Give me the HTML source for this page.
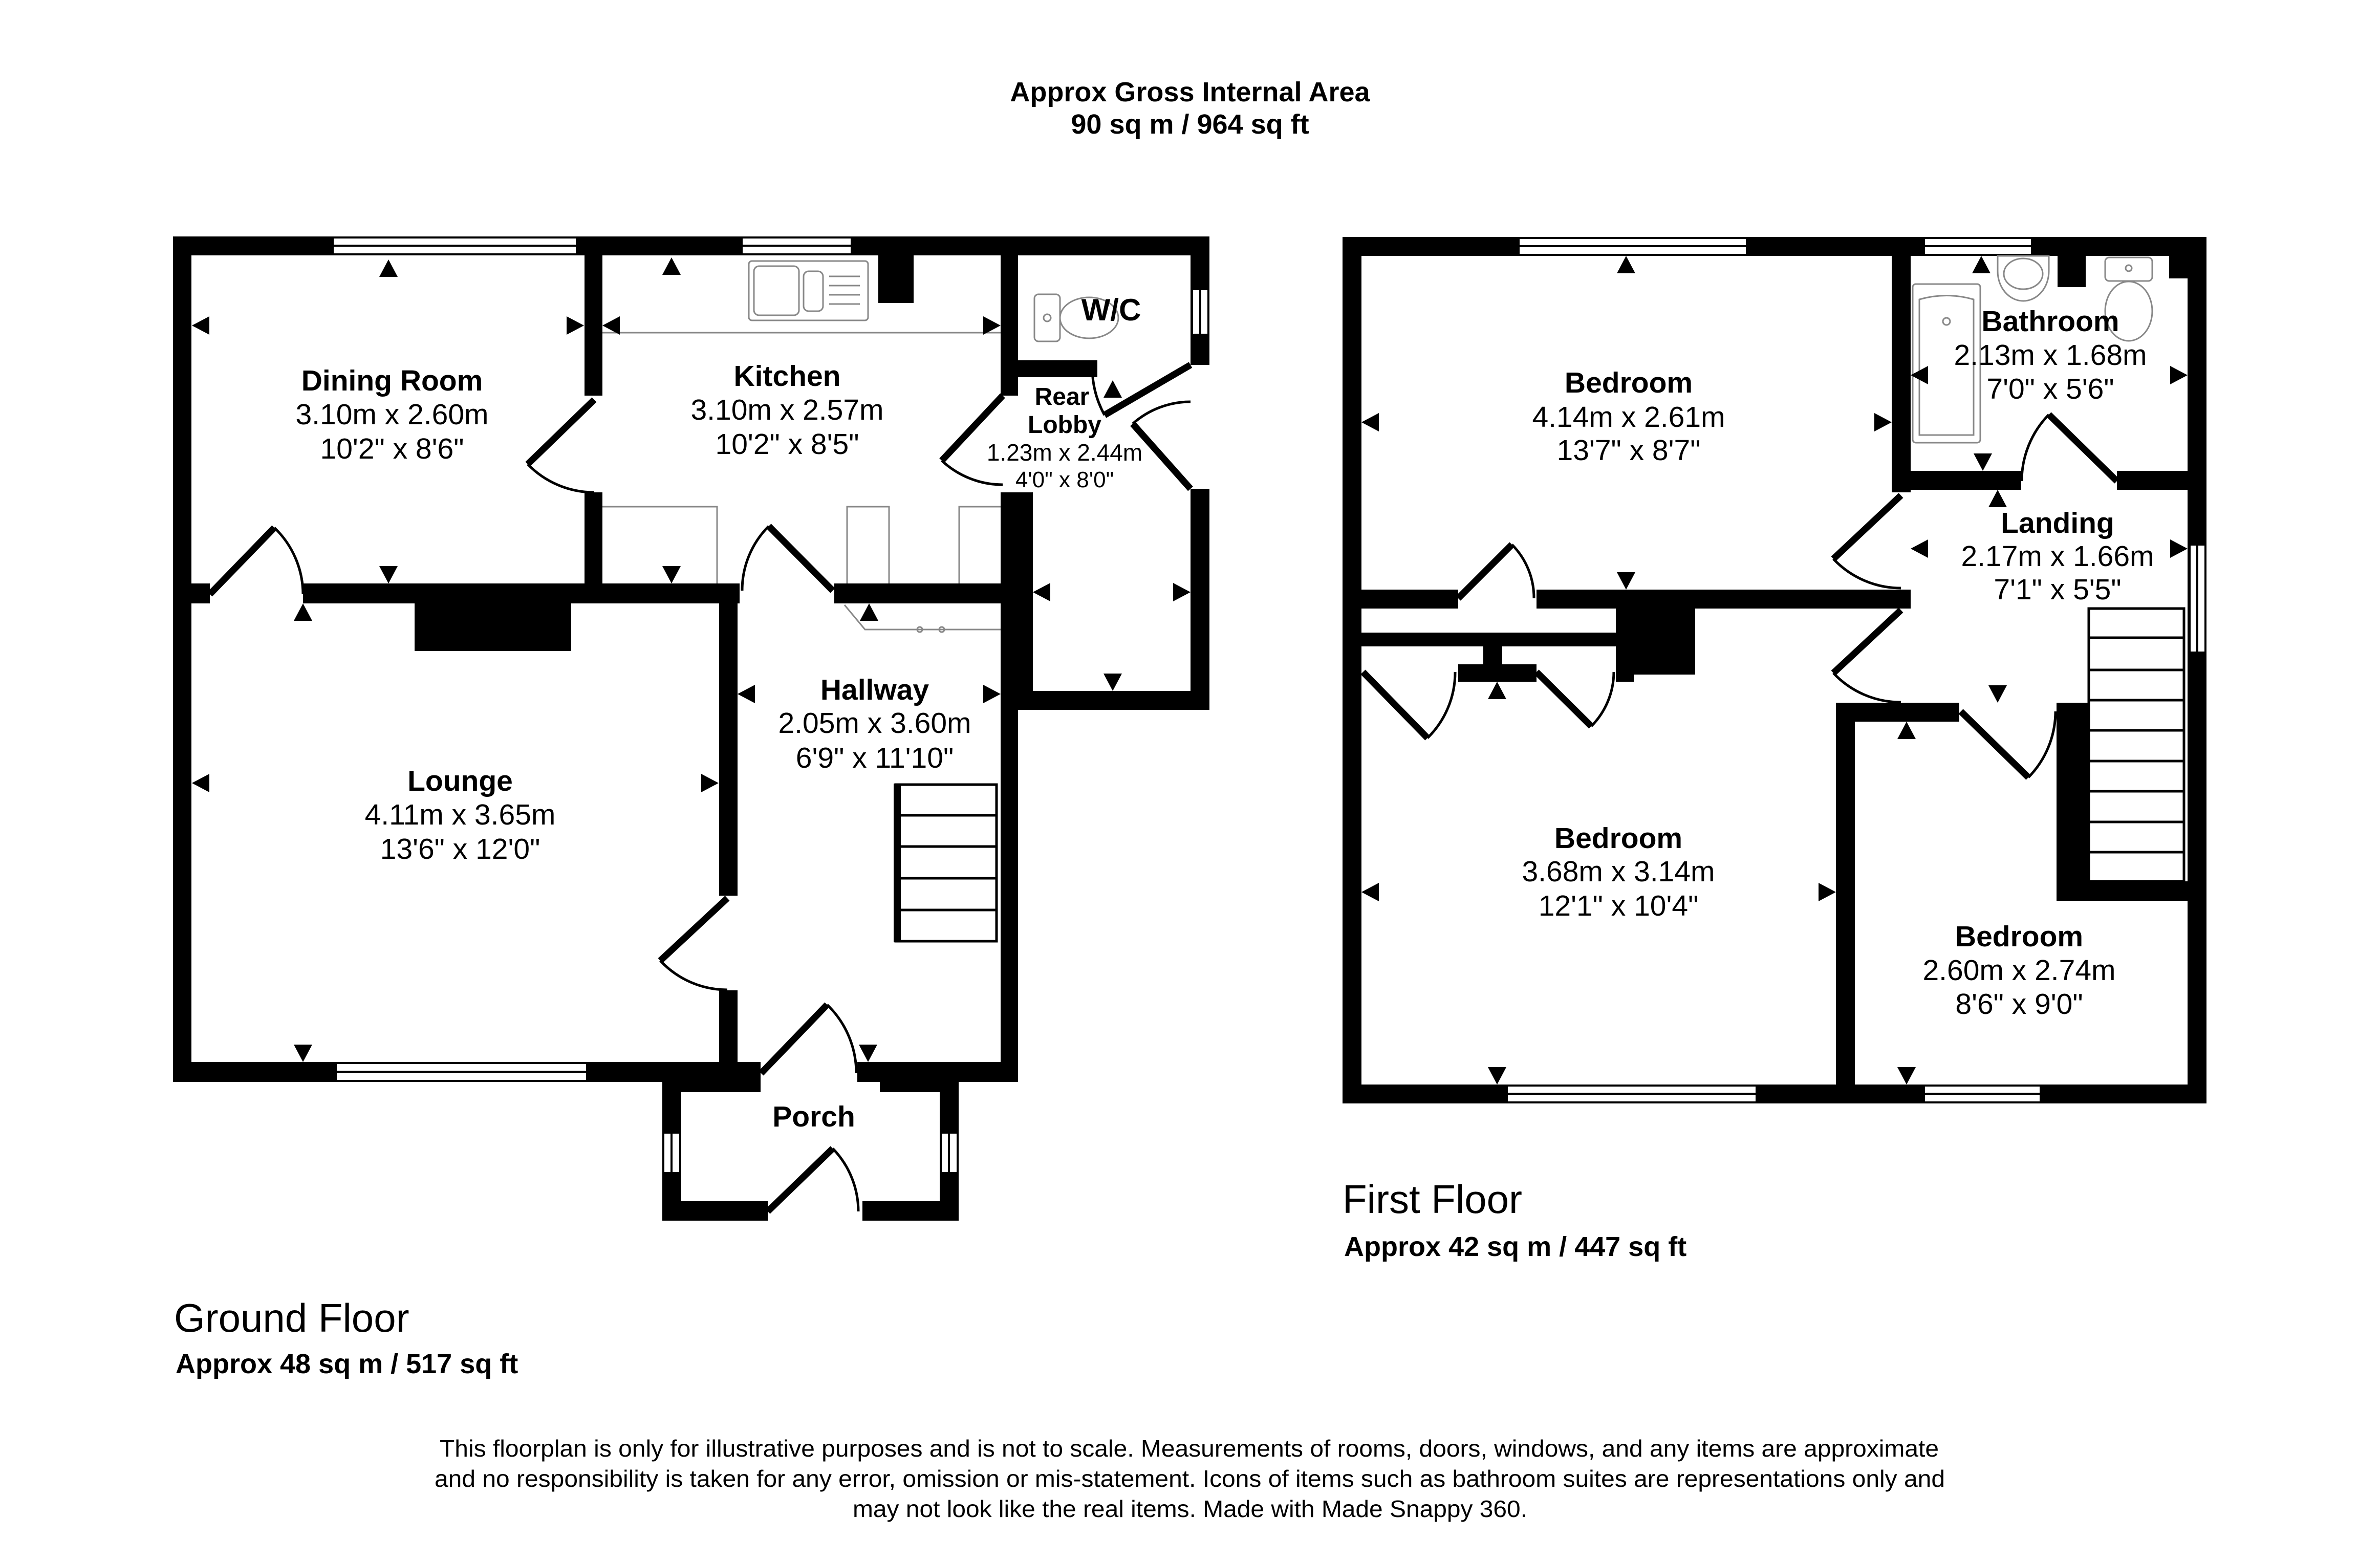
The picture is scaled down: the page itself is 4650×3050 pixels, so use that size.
<!DOCTYPE html>
<html><head><meta charset="utf-8"><style>
html,body{margin:0;padding:0;background:#fff}
svg{display:block}
text{font-family:"Liberation Sans",Arial,sans-serif;fill:#000}
.b{font-weight:bold}
</style></head><body>
<svg width="4650" height="3050" viewBox="0 0 4650 3050" xmlns="http://www.w3.org/2000/svg">
<rect width="4650" height="3050" fill="#fff"/>
<text class="b" x="2325" y="198" font-size="54" text-anchor="middle">Approx Gross Internal Area</text>
<text class="b" x="2325" y="261" font-size="54" text-anchor="middle">90 sq m / 964 sq ft</text>

<g fill="#000">
<rect x="338" y="462" width="2025" height="37"/>
<rect x="338" y="462" width="36" height="1652"/>
<rect x="338" y="2075" width="1148" height="39"/>
<rect x="1142" y="462" width="35" height="311"/>
<rect x="1142" y="962" width="35" height="217"/>
<rect x="338" y="1140" width="72" height="39"/>
<rect x="592" y="1140" width="853" height="39"/>
<rect x="810" y="1140" width="306" height="132"/>
<rect x="1630" y="1140" width="359" height="39"/>
<rect x="1405" y="1140" width="36" height="610"/>
<rect x="1405" y="1935" width="36" height="179"/>
<rect x="1955" y="1140" width="34" height="974"/>
<rect x="1955" y="462" width="34" height="311"/>
<rect x="1955" y="962" width="63" height="425"/>
<rect x="1989" y="704" width="155" height="33"/>
<rect x="2326" y="462" width="37" height="251"/>
<rect x="2326" y="955" width="37" height="432"/>
<rect x="1989" y="1350" width="374" height="37"/>
<rect x="1716" y="499" width="69" height="93"/>
<rect x="1675" y="2075" width="314" height="39"/>
<rect x="1719" y="2075" width="154" height="59"/>
<rect x="1294" y="2075" width="192" height="59"/>
<rect x="1294" y="2075" width="37" height="310"/>
<rect x="1836" y="2075" width="37" height="310"/>
<rect x="1294" y="2347" width="206" height="38"/>
<rect x="1685" y="2347" width="188" height="38"/>
</g>
<g fill="#fff" stroke="#000" stroke-width="4">
<rect x="650" y="464" width="477" height="33"/>
<rect x="1449" y="464" width="215" height="33"/>
<rect x="656" y="2077" width="491" height="35"/>
<rect x="2329" y="565" width="32" height="89"/>
<rect x="1296" y="2213" width="33" height="79"/>
<rect x="1838" y="2213" width="33" height="79"/>
</g>
<g stroke="#000" stroke-width="4">
<line x1="650" y1="480" x2="1127" y2="480"/>
<line x1="1449" y1="480" x2="1664" y2="480"/>
<line x1="656" y1="2094" x2="1147" y2="2094"/>
<line x1="2345" y1="565" x2="2345" y2="654"/>
<line x1="1312" y1="2213" x2="1312" y2="2292"/>
<line x1="1854" y1="2213" x2="1854" y2="2292"/>
</g>
<g fill="none" stroke="#888" stroke-width="3">
<line x1="1177" y1="650" x2="1955" y2="650"/>
<rect x="1463" y="510" width="233" height="116" rx="6"/>
<rect x="1473" y="520" width="88" height="96" rx="10"/>
<rect x="1570" y="530" width="38" height="78" rx="10"/>
<line x1="1620" y1="540" x2="1680" y2="540"/><line x1="1620" y1="558" x2="1680" y2="558"/><line x1="1620" y1="576" x2="1680" y2="576"/><line x1="1620" y1="594" x2="1680" y2="594"/>
<polyline points="1177,990 1401,990 1401,1140"/>
<polyline points="1655,1140 1655,990 1737,990 1737,1140"/>
<polyline points="1874,1140 1874,990 1955,990"/>
<polyline points="1650,1182 1690,1230 1955,1230"/>
<circle cx="1797" cy="1230" r="5"/><circle cx="1840" cy="1230" r="5"/>
<rect x="2021" y="575" width="50" height="92" rx="8"/>
<ellipse cx="2128" cy="621" rx="57" ry="40"/>
<circle cx="2046" cy="621" r="7"/>
</g>
<g fill="none" stroke="#000" stroke-width="5">
<rect x="1750" y="1533" width="197" height="306"/>
<line x1="1750" y1="1593" x2="1947" y2="1593"/><line x1="1750" y1="1654" x2="1947" y2="1654"/><line x1="1750" y1="1716" x2="1947" y2="1716"/><line x1="1750" y1="1778" x2="1947" y2="1778"/>
</g>
<rect x="1746" y="1531" width="14" height="310" fill="#000"/>

<g stroke="#000" stroke-width="13" stroke-linecap="butt">
<line x1="410" y1="1161" x2="536" y2="1031"/>
<line x1="1161" y1="781" x2="1031" y2="907"/>
<line x1="1627" y1="1154" x2="1502" y2="1028"/>
<line x1="1959" y1="773" x2="1840" y2="900"/>
<line x1="2326" y1="713" x2="2158" y2="811"/>
<line x1="2326" y1="955" x2="2213" y2="828"/>
<line x1="1421" y1="1755" x2="1290" y2="1877"/>
<line x1="1487" y1="2097" x2="1616" y2="1963"/>
<line x1="1500" y1="2367" x2="1627" y2="2244"/>
</g>
<g fill="none" stroke="#000" stroke-width="5">
<path d="M536 1031 A181 181 0 0 1 592 1161"/>
<path d="M1031 907 A181 181 0 0 0 1161 962"/>
<path d="M1502 1028 A177 177 0 0 0 1450 1154"/>
<path d="M1840 900 A174 174 0 0 0 1959 947"/>
<path d="M2158 811 A194 194 0 0 1 2134 720"/>
<path d="M2213 828 A170 170 0 0 1 2326 785"/>
<path d="M1290 1877 A179 179 0 0 0 1421 1934"/>
<path d="M1616 1963 A186 186 0 0 1 1673 2097"/>
<path d="M1627 2244 A177 177 0 0 1 1677 2367"/>
</g>

<g fill="#000">
<polygon points="759,507 741,541 777,541"/>
<polygon points="1312,503 1294,537 1330,537"/>
<polygon points="592,1179 574,1213 610,1213"/>
<polygon points="1698,1179 1680,1213 1716,1213"/>
<polygon points="2174,743 2156,777 2192,777"/>
<polygon points="759,1140 741,1106 777,1106"/>
<polygon points="1312,1140 1294,1106 1330,1106"/>
<polygon points="592,2075 574,2041 610,2041"/>
<polygon points="1696,2075 1678,2041 1714,2041"/>
<polygon points="2174,1350 2156,1316 2192,1316"/>
<polygon points="375,636 409,618 409,654"/>
<polygon points="1177,636 1211,618 1211,654"/>
<polygon points="375,1530 409,1512 409,1548"/>
<polygon points="1441,1356 1475,1338 1475,1374"/>
<polygon points="2018,1157 2052,1139 2052,1175"/>
<polygon points="1141,636 1107,618 1107,654"/>
<polygon points="1955,636 1921,618 1921,654"/>
<polygon points="1404,1530 1370,1512 1370,1548"/>
<polygon points="1955,1356 1921,1338 1921,1374"/>
<polygon points="2326,1157 2292,1139 2292,1175"/>
</g>

<g text-anchor="middle" font-size="57">
<text class="b" x="766" y="763">Dining Room</text>
<text x="766" y="829">3.10m x 2.60m</text>
<text x="766" y="896">10'2" x 8'6"</text>
<text class="b" x="1538" y="754">Kitchen</text>
<text x="1538" y="820">3.10m x 2.57m</text>
<text x="1538" y="887">10'2" x 8'5"</text>
<text class="b" x="899" y="1545">Lounge</text>
<text x="899" y="1611">4.11m x 3.65m</text>
<text x="899" y="1678">13'6" x 12'0"</text>
<text class="b" x="1709" y="1367">Hallway</text>
<text x="1709" y="1432">2.05m x 3.60m</text>
<text x="1709" y="1500">6'9" x 11'10"</text>
<text class="b" x="2171" y="626" font-size="60">W/C</text>
<text class="b" x="1590" y="2201">Porch</text>
<text class="b" x="2075" y="791" font-size="48">Rear</text>
<text class="b" x="2080" y="846" font-size="48">Lobby</text>
<text x="2080" y="900" font-size="46">1.23m x 2.44m</text>
<text x="2080" y="952" font-size="44">4'0" x 8'0"</text>
</g>

<g fill="#000">
<rect x="2623" y="463" width="1688" height="37"/>
<rect x="2623" y="463" width="37" height="1693"/>
<rect x="4274" y="463" width="37" height="1693"/>
<rect x="2623" y="2119" width="1688" height="37"/>
<rect x="3696" y="463" width="37" height="499"/>
<rect x="3696" y="920" width="253" height="37"/>
<rect x="4136" y="920" width="175" height="37"/>
<rect x="4020" y="500" width="55" height="61"/>
<rect x="4238" y="500" width="36" height="44"/>
<rect x="2623" y="1152" width="226" height="37"/>
<rect x="3002" y="1152" width="731" height="37"/>
<rect x="2623" y="1236" width="534" height="27"/>
<rect x="3157" y="1189" width="155" height="129"/>
<rect x="3157" y="1189" width="35" height="143"/>
<rect x="2849" y="1298" width="153" height="34"/>
<rect x="2898" y="1263" width="37" height="40"/>
<rect x="3587" y="1373" width="37" height="783"/>
<rect x="3587" y="1373" width="241" height="37"/>
<rect x="4018" y="1373" width="63" height="387"/>
<rect x="4018" y="1722" width="256" height="38"/>
</g>
<g fill="#fff" stroke="#000" stroke-width="4">
<rect x="2967" y="465" width="446" height="33"/>
<rect x="3759" y="465" width="211" height="33"/>
<rect x="2944" y="2121" width="488" height="33"/>
<rect x="3759" y="2121" width="228" height="33"/>
<rect x="4278" y="1064" width="31" height="211"/>
</g>
<g stroke="#000" stroke-width="4">
<line x1="2967" y1="481" x2="3413" y2="481"/>
<line x1="3759" y1="481" x2="3970" y2="481"/>
<line x1="2944" y1="2137" x2="3432" y2="2137"/>
<line x1="3759" y1="2137" x2="3987" y2="2137"/>
<line x1="4293" y1="1064" x2="4293" y2="1275"/>
</g>
<g fill="none" stroke="#888" stroke-width="3">
<rect x="3737" y="555" width="132" height="310" rx="6"/>
<path d="M3750 585 Q3803 570 3856 585 L3856 850 L3750 850 Z"/>
<circle cx="3803" cy="628" r="7"/>
<path d="M3903 500 L4003 500 L4003 530 A50 58 0 0 1 3903 530 Z"/>
<ellipse cx="3953" cy="535" rx="38" ry="30"/>
<rect x="4113" y="503" width="92" height="46" rx="8"/>
<ellipse cx="4159" cy="608" rx="46" ry="58"/>
<circle cx="4159" cy="524" r="6"/>
</g>
<g fill="none" stroke="#000" stroke-width="5">
<rect x="4081" y="1189" width="186" height="533"/>
<line x1="4081" y1="1246" x2="4267" y2="1246"/><line x1="4081" y1="1309" x2="4267" y2="1309"/><line x1="4081" y1="1368" x2="4267" y2="1368"/><line x1="4081" y1="1427" x2="4267" y2="1427"/><line x1="4081" y1="1487" x2="4267" y2="1487"/><line x1="4081" y1="1546" x2="4267" y2="1546"/><line x1="4081" y1="1606" x2="4267" y2="1606"/><line x1="4081" y1="1665" x2="4267" y2="1665"/>
</g>
<g stroke="#000" stroke-width="13">
<line x1="2849" y1="1169" x2="2954" y2="1064"/>
<line x1="2663" y1="1313" x2="2789" y2="1442"/>
<line x1="3002" y1="1313" x2="3109" y2="1419"/>
<line x1="3714" y1="968" x2="3582" y2="1092"/>
<line x1="3714" y1="1192" x2="3582" y2="1315"/>
<line x1="3831" y1="1390" x2="3963" y2="1519"/>
<line x1="4136" y1="940" x2="4003" y2="810"/>
</g>
<g fill="none" stroke="#000" stroke-width="5">
<path d="M2954 1064 A148 148 0 0 1 2997 1169"/>
<path d="M2789 1442 A180 180 0 0 0 2843 1313"/>
<path d="M3109 1419 A151 151 0 0 0 3153 1313"/>
<path d="M3582 1092 A181 181 0 0 0 3714 1149"/>
<path d="M3582 1315 A180 180 0 0 0 3714 1372"/>
<path d="M3963 1519 A185 185 0 0 0 4016 1390"/>
<path d="M4003 810 A186 186 0 0 0 3950 940"/>
</g>
<g fill="#000">
<polygon points="3177,500 3159,534 3195,534"/>
<polygon points="3871,500 3853,534 3889,534"/>
<polygon points="3903,957 3885,991 3921,991"/>
<polygon points="2925,1332 2907,1366 2943,1366"/>
<polygon points="3725,1410 3707,1444 3743,1444"/>
<polygon points="3177,1152 3159,1118 3195,1118"/>
<polygon points="3874,920 3856,886 3892,886"/>
<polygon points="3903,1373 3885,1339 3921,1339"/>
<polygon points="2925,2119 2907,2085 2943,2085"/>
<polygon points="3725,2119 3707,2085 3743,2085"/>
<polygon points="2660,825 2694,807 2694,843"/>
<polygon points="3733,733 3767,715 3767,751"/>
<polygon points="3733,1072 3767,1054 3767,1090"/>
<polygon points="2660,1743 2694,1725 2694,1761"/>
<polygon points="3624,2138 3658,2120 3658,2156"/>
<polygon points="3696,825 3662,807 3662,843"/>
<polygon points="4274,733 4240,715 4240,751"/>
<polygon points="4274,1072 4240,1054 4240,1090"/>
<polygon points="3587,1743 3553,1725 3553,1761"/>
<polygon points="4274,2138 4240,2120 4240,2156"/>
</g>
<g text-anchor="middle" font-size="57">
<text class="b" x="3182" y="767">Bedroom</text>
<text x="3182" y="834">4.14m x 2.61m</text>
<text x="3182" y="899">13'7" x 8'7"</text>
<text class="b" x="4006" y="647">Bathroom</text>
<text x="4006" y="713">2.13m x 1.68m</text>
<text x="4006" y="779">7'0" x 5'6"</text>
<text class="b" x="4020" y="1041">Landing</text>
<text x="4020" y="1106">2.17m x 1.66m</text>
<text x="4020" y="1171">7'1" x 5'5"</text>
<text class="b" x="3162" y="1657">Bedroom</text>
<text x="3162" y="1722">3.68m x 3.14m</text>
<text x="3162" y="1789">12'1" x 10'4"</text>
<text class="b" x="3945" y="1849">Bedroom</text>
<text x="3945" y="1915">2.60m x 2.74m</text>
<text x="3945" y="1981">8'6" x 9'0"</text>
</g>

<text x="340" y="2602" font-size="78">Ground Floor</text>
<text class="b" x="343" y="2683" font-size="54">Approx 48 sq m / 517 sq ft</text>
<text x="2623" y="2370" font-size="78">First Floor</text>
<text class="b" x="2626" y="2454" font-size="54">Approx 42 sq m / 447 sq ft</text>

<g font-size="46">
<text x="859" y="2846" textLength="2929" lengthAdjust="spacingAndGlyphs">This floorplan is only for illustrative purposes and is not to scale. Measurements of rooms, doors, windows, and any items are approximate</text>
<text x="849" y="2905" textLength="2951" lengthAdjust="spacingAndGlyphs">and no responsibility is taken for any error, omission or mis-statement. Icons of items such as bathroom suites are representations only and</text>
<text x="1666" y="2964" textLength="1318" lengthAdjust="spacingAndGlyphs">may not look like the real items. Made with Made Snappy 360.</text>
</g>
</svg>
</body></html>
